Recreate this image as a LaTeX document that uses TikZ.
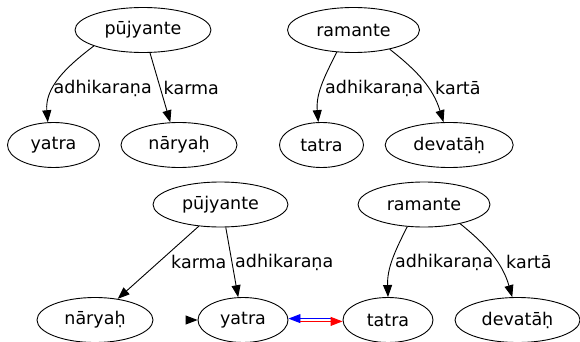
\documentclass[tikz,border=0pt]{standalone}
\usepackage{fontspec}
\setmainfont{DejaVu Sans}
\usetikzlibrary{arrows.meta,shapes.geometric}
\begin{document}
\begin{tikzpicture}[x=1pt,y=-1pt,
  word/.style={draw, ellipse, line width=0.9pt, minimum height=45pt, inner sep=0pt,
    font=\fontsize{17.5}{20}\selectfont},
  lbl/.style={anchor=west, inner sep=0pt, font=\fontsize{17.5}{20}\selectfont},
  arr/.style={-{Triangle[length=12pt,width=9pt]}, line width=0.9pt},
]
\useasboundingbox (0,0) rectangle (580,342);

% first sentence: pujyante
\node[word, minimum width=136pt] (P1) at (143,30) {pūjyante};
\node[word, minimum width=92pt]  (Y1) at (53.5,145) {yatra};
\node[word, minimum width=116pt] (N1) at (179,145) {nāryaḥ};
\draw[arr] (P1.198) to[out=217, in=95] (Y1.104);
\draw[arr] (P1.287) -- (N1.111);
\node[lbl] at (53.5,88) {adhikaraṇa};
\node[lbl] at (163.5,88) {karma};

% second sentence: ramante
\node[word, minimum width=132pt] (R1) at (353.5,30) {ramante};
\node[word, minimum width=84pt]  (T1) at (321.5,145) {tatra};
\node[word, minimum width=128pt] (D1) at (449.2,145) {devatāḥ};
\draw[arr] (R1.233.5) to[out=243, in=95] (T1.98);
\draw[arr] (R1.332) to[out=322, in=107] (D1.104);
\node[lbl] at (325,88) {adhikaraṇa};
\node[lbl] at (435,88) {kartā};

% joined sentences
\node[word, minimum width=135pt] (P2) at (220.5,204.5) {pūjyante};
\node[word, minimum width=116pt] (N2) at (95,320) {nāryaḥ};
\node[word, minimum width=90pt]  (Y2) at (243,320) {yatra};
\node[word, minimum width=132pt] (R2) at (424,204.5) {ramante};
\node[word, minimum width=90pt]  (T2) at (388,320) {tatra};
\node[word, minimum width=125pt] (D2) at (517.5,320) {devatāḥ};

\draw[arr] (P2.225) -- (N2.43.7);
\draw[arr] (P2.283) -- (Y2.102);
\draw[arr] (R2.233) to[out=243, in=92] (T2.90);
\draw[arr] (R2.332.8) to[out=321, in=106] (D2.103.5);
\node[lbl] at (171,262) {karma};
\node[lbl] at (235,262) {adhikaraṇa};
\node[lbl] at (395,262) {adhikaraṇa};
\node[lbl] at (506,262) {kartā};

% yatra -- tatra correspondence
\coordinate (Yin) at ([xshift=-12pt]Y2.west);
\draw[arr] (Yin) -- (Y2.west);
\draw[arr, blue] ([xshift=-12pt,yshift=1.4pt]T2.west) -- ([yshift=1.4pt]Y2.east);
\draw[arr, red] ([xshift=12pt,yshift=-1.4pt]Y2.east) -- ([yshift=-1.4pt]T2.west);
\end{tikzpicture}
\end{document}
